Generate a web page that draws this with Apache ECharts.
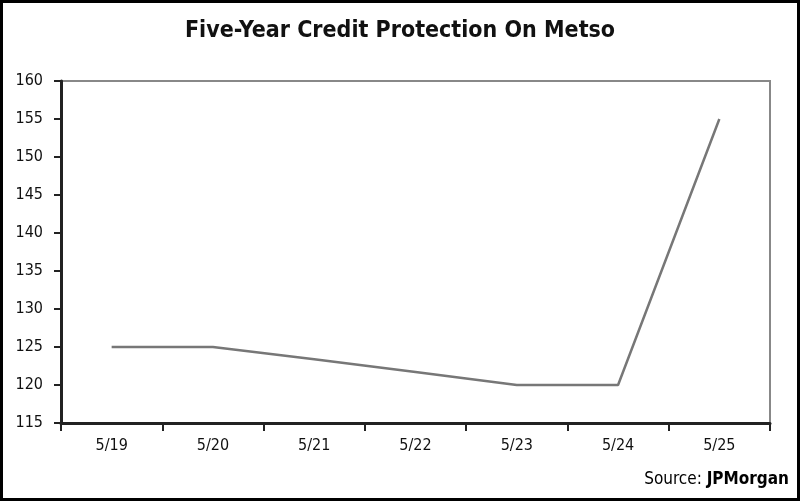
<!DOCTYPE html>
<html>
<head>
<meta charset="utf-8">
<script src="https://cdn.jsdelivr.net/npm/echarts@6/dist/echarts.min.js"></script>
<style>
  html, body { margin: 0; padding: 0; background: #fff; }
  #chart { width: 800px; height: 501px; }
</style>
</head>
<body>
<div id="chart"></div>
<script>
// data
const dates = ['5/19', '5/20', '5/21', '5/22', '5/23', '5/24', '5/25'];
const spread = [125, 125, 123.4, 121.7, 120, 120, 155];
const yMin = 115, yMax = 160, yStep = 5;

const narrow = '"Liberation Sans Narrow", "DejaVu Sans Condensed", sans-serif';

const chart = echarts.init(document.getElementById('chart'));

const option = {
    animation: false,
    backgroundColor: '#fff',
    title: {
        text: 'Five-Year Credit Protection On Metso',
        left: 'center',
        top: 15,
        textStyle: {
            fontFamily: narrow,
            fontWeight: 'bold',
            fontSize: 23,
            color: '#111'
        }
    },
    grid: {
        left: 61,
        right: 30,
        top: 81,
        bottom: 78,
        show: true,
        borderColor: '#888',
        borderWidth: 2
    },
    xAxis: {
        type: 'category',
        data: dates,
        boundaryGap: true,
        axisLine: {
            show: true,
            lineStyle: { color: '#222', width: 3 }
        },
        axisTick: {
            show: true,
            length: 8,
            lineStyle: { color: '#222', width: 2 }
        },
        axisLabel: {
            margin: 15,
            color: '#111',
            fontFamily: narrow,
            fontSize: 16
        },
        splitLine: { show: false }
    },
    yAxis: {
        type: 'value',
        min: yMin,
        max: yMax,
        interval: yStep,
        axisLine: {
            show: true,
            lineStyle: { color: '#222', width: 3 }
        },
        axisTick: {
            show: true,
            length: 7,
            lineStyle: { color: '#222', width: 2 }
        },
        axisLabel: {
            margin: 18,
            color: '#111',
            fontFamily: narrow,
            fontSize: 16
        },
        splitLine: { show: false }
    },
    series: [
        {
            type: 'line',
            data: spread,
            symbol: 'none',
            lineStyle: { color: '#777', width: 2.5 }
        }
    ],
    graphic: [
        {
            type: 'rect',
            shape: { x: 1.5, y: 1.5, width: 797, height: 498 },
            style: { fill: null, stroke: '#000', lineWidth: 3 },
            z: 100
        },
        {
            type: 'text',
            right: 11,
            top: 471,
            style: {
                text: '{a|Source: }{b|JPMorgan}',
                rich: {
                    a: { fontFamily: narrow, fontSize: 17, color: '#222' },
                    b: { fontFamily: narrow, fontSize: 17, fontWeight: 'bold', color: '#222' }
                }
            }
        }
    ]
};

chart.setOption(option);
window.addEventListener('resize', function () {
    chart.resize();
});
</script>
</body>
</html>
